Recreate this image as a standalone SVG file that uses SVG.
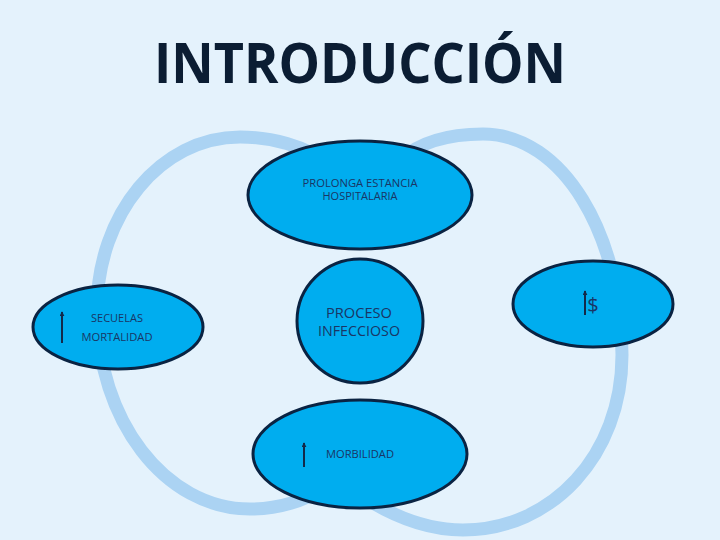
<svg xmlns="http://www.w3.org/2000/svg" width="720" height="540" viewBox="0 0 720 540">
<defs>
<style>
.ring{fill:none;stroke:#abd3f3;stroke-width:13}
.node{fill:#00adef;stroke:#0a2342;stroke-width:3}
.t{font-family:"Open Sans","Liberation Sans",sans-serif;fill:#1a3565;text-anchor:middle}
.arr{stroke:#132a4a;stroke-width:2;fill:none;marker-end:url(#ah)}
</style>
<marker id="ah" viewBox="0 0 6 6" refX="5" refY="3" markerWidth="2.5" markerHeight="2.5" orient="auto" markerUnits="strokeWidth">
<path d="M0,0 L6,3 L0,6 Z" fill="#132a4a"/>
</marker>
</defs>
<rect width="720" height="540" fill="#e4f2fc"/>
<text x="360" y="83" font-family="'Open Sans','Liberation Sans',sans-serif" font-weight="bold" font-size="56" fill="#0b1d33" text-anchor="middle" textLength="412" lengthAdjust="spacingAndGlyphs">INTRODUCCIÓN</text>
<g id="connectors">
<path class="ring" d="M330,165 C305,145 270,137 240,137 C161,137 97,214 97,310 C97,420 165,509 250,509 C280,509 305,500 320,490"/>
<path class="ring" d="M400,160 C420,142 450,134 483,134 C563,134 622,235 622,355 C622,455 552,530 463,530 C430,530 395,518 360,495"/>
</g>
<g id="prolonga">
<ellipse class="node" cx="360" cy="195" rx="112" ry="54"/>
<text class="t" x="360" y="187" font-size="10.5" textLength="115" lengthAdjust="spacingAndGlyphs">PROLONGA ESTANCIA</text>
<text class="t" x="360" y="200" font-size="10.5" textLength="75" lengthAdjust="spacingAndGlyphs">HOSPITALARIA</text>
</g>
<g id="secuelas">
<ellipse class="node" cx="118" cy="327" rx="85" ry="42"/>
<path class="arr" d="M62,343 L62,312"/>
<text class="t" x="117" y="322" font-size="11" textLength="52" lengthAdjust="spacingAndGlyphs">SECUELAS</text>
<text class="t" x="117" y="341" font-size="11" textLength="71" lengthAdjust="spacingAndGlyphs">MORTALIDAD</text>
</g>
<g id="proceso">
<ellipse class="node" cx="360" cy="321" rx="63" ry="62"/>
<text class="t" x="359" y="318" font-size="14" textLength="66" lengthAdjust="spacingAndGlyphs">PROCESO</text>
<text class="t" x="359" y="336" font-size="14" textLength="82" lengthAdjust="spacingAndGlyphs">INFECCIOSO</text>
</g>
<g id="costo">
<ellipse class="node" cx="593" cy="304" rx="80" ry="43"/>
<path class="arr" d="M585,315 L585,291"/>
<text class="t" x="593" y="312" font-size="20">$</text>
</g>
<g id="morbilidad">
<ellipse class="node" cx="360" cy="454" rx="107" ry="54"/>
<path class="arr" d="M304,467 L304,443"/>
<text class="t" x="360" y="458" font-size="11" textLength="68" lengthAdjust="spacingAndGlyphs">MORBILIDAD</text>
</g>
</svg>
